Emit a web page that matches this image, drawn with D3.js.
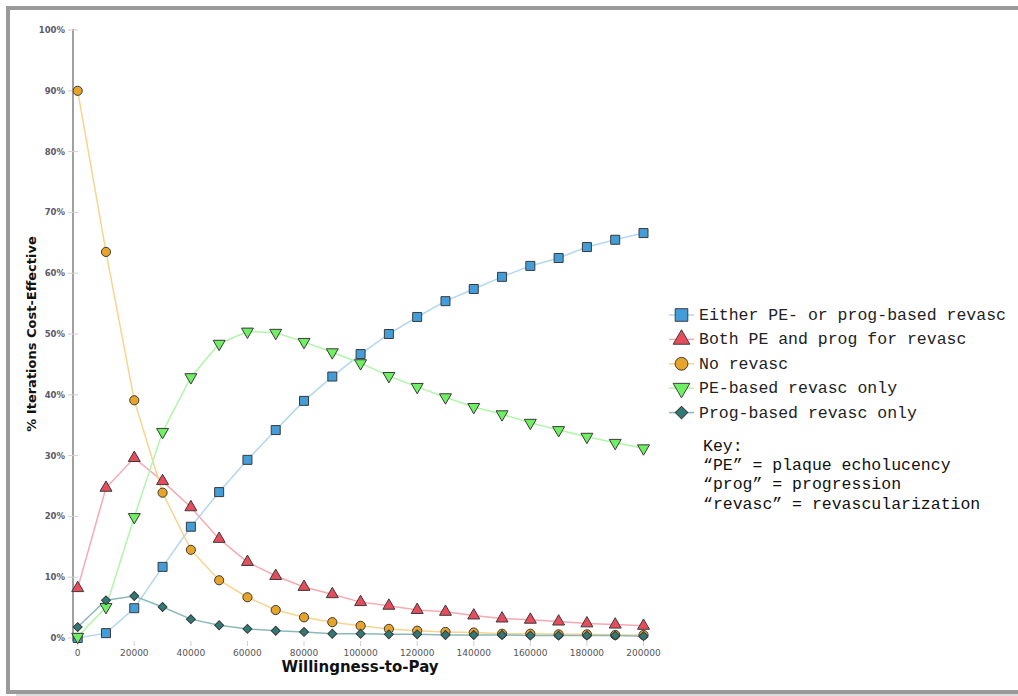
<!DOCTYPE html>
<meta charset="utf-8">
<script src="https://cdn.jsdelivr.net/npm/d3@7"></script>
<html>
<head>
<style>
body { margin: 0; background: #fff; }
</style>
</head>
<body>
<div id="chart"></div>
<script>

// willingness-to-pay steps
var wtp = [0, 10000, 20000, 30000, 40000, 50000, 60000, 70000, 80000, 90000, 100000,
           110000, 120000, 130000, 140000, 150000, 160000, 170000, 180000, 190000, 200000];

// % iterations cost-effective, per strategy
var either = [0, 0.8, 4.9, 11.7, 18.3, 24.0, 29.3, 34.2, 39.0, 43.0, 46.7,
              50.0, 52.8, 55.4, 57.4, 59.4, 61.2, 62.5, 64.3, 65.5, 66.6];
var both = [8.2, 24.7, 29.6, 25.8, 21.5, 16.3, 12.5, 10.2, 8.4, 7.2, 5.9,
            5.3, 4.6, 4.3, 3.7, 3.2, 3.0, 2.7, 2.4, 2.2, 2.0];
var norevasc = [90.0, 63.5, 39.1, 23.9, 14.5, 9.5, 6.7, 4.6, 3.4, 2.6, 2.0,
                1.5, 1.2, 1.0, 0.9, 0.7, 0.7, 0.6, 0.6, 0.5, 0.5];
var peonly = [0.2, 5.1, 19.9, 33.9, 42.9, 48.4, 50.4, 50.2, 48.7, 47.0, 45.2,
              43.1, 41.3, 39.6, 38.0, 36.8, 35.4, 34.2, 33.1, 32.1, 31.2];
var progonly = [1.8, 6.2, 6.9, 5.1, 3.1, 2.1, 1.5, 1.2, 1.0, 0.7, 0.7,
                0.6, 0.6, 0.5, 0.5, 0.5, 0.4, 0.4, 0.4, 0.4, 0.3];

var yticks = [0, 10, 20, 30, 40, 50, 60, 70, 80, 90, 100];
var xticks = [0, 20000, 40000, 60000, 80000, 100000, 120000, 140000, 160000, 180000, 200000];

var names = ["Either PE- or prog-based revasc", "Both PE and prog for revasc", "No revasc",
             "PE-based revasc only", "Prog-based revasc only"];
var keyLines = ["Key:", "\u201cPE\u201d = plaque echolucency", "\u201cprog\u201d = progression",
                "\u201crevasc\u201d = revascularization"];

var series = [
  {name: names[0], vals: either,   line: "#b3d7f0", fill: "#429dd8", shape: "square"},
  {name: names[1], vals: both,     line: "#f7a9b2", fill: "#e64c5c", shape: "up"},
  {name: names[2], vals: norevasc, line: "#f7d490", fill: "#e8a428", shape: "circle"},
  {name: names[3], vals: peonly,   line: "#b2f5aa", fill: "#6ef062", shape: "down"},
  {name: names[4], vals: progonly, line: "#8cb9b8", fill: "#2f7a77", shape: "diamond"}
];

var W = 1018, H = 696;
var svg = d3.select("#chart").append("svg")
  .attr("width", W).attr("height", H)
  .style("display", "block");

// frame with shadow
svg.append("rect").attr("x", 16).attr("y", 16).attr("width", W).attr("height", 680).attr("fill", "#dcdcdc");
svg.append("rect").attr("x", 8).attr("y", 8).attr("width", W + 10).attr("height", 684)
  .attr("fill", "#fff").attr("stroke", "#9a9a9a").attr("stroke-width", 4);

var x = d3.scaleLinear().domain([0, 200000]).range([77.7, 643.5]);
var y = d3.scaleLinear().domain([0, 100]).range([638, 30]);

// y axis
svg.append("line").attr("x1", 73).attr("x2", 73).attr("y1", 29).attr("y2", 641)
  .attr("stroke", "#a0a0a0").attr("stroke-width", 2);
var yg = svg.append("g");
yticks.forEach(function(t) {
  yg.append("line").attr("x1", 68).attr("x2", 78).attr("y1", y(t)).attr("y2", y(t))
    .attr("stroke", "#cfcfcf").attr("stroke-width", 1);
  yg.append("text").attr("x", 65).attr("y", y(t) + 3)
    .attr("text-anchor", "end")
    .style("font", "bold 8.5px 'DejaVu Sans', sans-serif")
    .style("fill", "#5a5a6a")
    .text(t + "%");
});

// x axis ticks
var xg = svg.append("g");
xticks.forEach(function(t) {
  xg.append("line").attr("x1", x(t)).attr("x2", x(t)).attr("y1", 641).attr("y2", 646)
    .attr("stroke", "#cfcfcf").attr("stroke-width", 1);
  xg.append("text").attr("x", x(t)).attr("y", 656)
    .attr("text-anchor", "middle")
    .style("font", "9px 'DejaVu Sans', sans-serif")
    .style("fill", "#555")
    .text(t);
});

svg.append("text").attr("x", 360).attr("y", 672).attr("text-anchor", "middle")
  .style("font", "bold 15px 'DejaVu Sans', sans-serif").style("fill", "#111")
  .text("Willingness-to-Pay");

svg.append("text").attr("transform", "translate(36,334) rotate(-90)").attr("text-anchor", "middle")
  .style("font", "bold 13px 'DejaVu Sans', sans-serif").style("fill", "#111")
  .text("% Iterations Cost-Effective");

function marker(sel, shape) {
  var p;
  if (shape == "square") p = d3.symbol(d3.symbolSquare, 81)();
  else if (shape == "circle") p = d3.symbol(d3.symbolCircle, 66)();
  else if (shape == "diamond") p = d3.symbol(d3.symbolSquare, 40)();
  else p = d3.symbol(d3.symbolTriangle, 62)();
  var rot = shape == "down" ? 180 : (shape == "diamond" ? 45 : 0);
  return sel.append("path").attr("d", p)
    .attr("transform", function(d) { return "translate(" + d[0] + "," + d[1] + ") rotate(" + rot + ")"; });
}

var line = d3.line().x(function(d) { return d[0]; }).y(function(d) { return d[1]; });

series.forEach(function(s) {
  var pts = s.vals.map(function(v, i) { return [x(wtp[i]), y(v)]; });
  svg.append("path").datum(pts).attr("d", line)
    .attr("fill", "none").attr("stroke", s.line).attr("stroke-width", 1.5);
});
series.forEach(function(s) {
  var pts = s.vals.map(function(v, i) { return [x(wtp[i]), y(v)]; });
  var g = svg.append("g");
  marker(g.selectAll("path").data(pts).enter(), s.shape)
    .attr("fill", s.fill).attr("stroke", "#3a3a3a").attr("stroke-width", 1);
});

// legend
var leg = svg.append("g");
series.forEach(function(s, i) {
  var cy = 315 + i * 24.4;
  leg.append("line").attr("x1", 669).attr("x2", 694).attr("y1", cy).attr("y2", cy)
    .attr("stroke", s.line).attr("stroke-width", 1.5);
  marker(leg.selectAll(null).data([[681.5, cy]]).enter(), s.shape)
    .attr("fill", s.fill).attr("stroke", "#3a3a3a")
    .attr("transform", function(d) {
      var sc = 1.4;
      var rot = s.shape == "down" ? 180 : (s.shape == "diamond" ? 45 : 0);
      return "translate(" + d[0] + "," + d[1] + ") scale(" + sc + ") rotate(" + rot + ")";
    })
    .attr("stroke-width", 0.7);
  leg.append("text").attr("x", 699).attr("y", cy + 5)
    .style("font", "16.5px 'Liberation Mono', monospace").style("fill", "#222")
    .text(s.name);
});

keyLines.forEach(function(t, i) {
  svg.append("text").attr("x", 703).attr("y", 451 + i * 19.2)
    .style("font", "16.5px 'Liberation Mono', monospace").style("fill", "#111")
    .text(t);
});

</script>
</body>
</html>
